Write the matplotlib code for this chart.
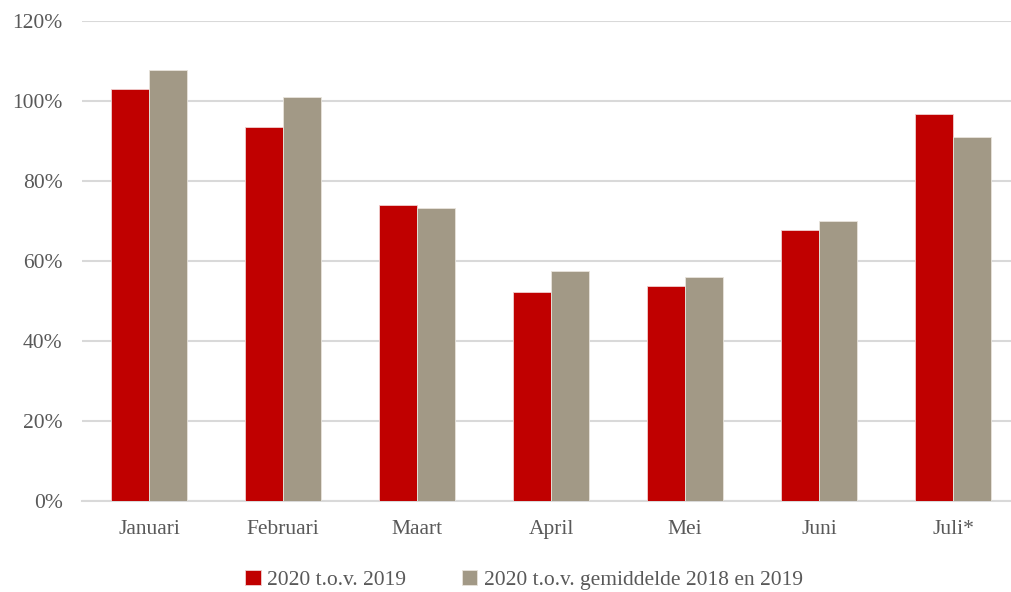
import numpy as np
import matplotlib.pyplot as plt
from matplotlib.ticker import FuncFormatter

# data
maanden = ['Januari', 'Februari', 'Maart', 'April', 'Mei', 'Juni', 'Juli*']
tov_2019 = [102.9, 93.6, 73.9, 52.3, 53.8, 67.7, 96.8]
tov_gem = [107.7, 101.1, 73.3, 57.4, 56.0, 70.1, 91.0]
labels = ['2020 t.o.v. 2019', '2020 t.o.v. gemiddelde 2018 en 2019']

rood = '#c00000'
grijs = '#a29986'
tekst = '#595959'

plt.rcParams['font.family'] = ['Liberation Serif', 'DejaVu Serif']

fig = plt.figure(figsize=(10.11, 5.92), dpi=100)
# plot area runs a little past the right edge, like the reference
ax = fig.add_axes([82 / 1011, 91 / 592, 938 / 1011, 480 / 592])

x = np.arange(len(maanden))
w = 0.287
ax.bar(x - w / 2, tov_2019, w, color=rood, edgecolor='#f0d0d0', linewidth=0.6, label=labels[0], zorder=3)
ax.bar(x + w / 2, tov_gem, w, color=grijs, edgecolor='#e8e4dc', linewidth=0.6, label=labels[1], zorder=3)

ax.set_xlim(-0.5, len(maanden) - 0.5)
ax.set_ylim(0, 120)
ax.set_yticks(np.arange(0, 121, 20))
ax.yaxis.set_major_formatter(FuncFormatter(lambda v, p: f'{v:.0f}%'))
ax.set_xticks(x)
ax.set_xticklabels(maanden)

ax.grid(axis='y', color='#d9d9d9', linewidth=1.5, zorder=0)
for s in ['top', 'right', 'left']:
    ax.spines[s].set_visible(False)
ax.spines['bottom'].set_color('#d9d9d9')
ax.spines['bottom'].set_linewidth(1.5)
ax.tick_params(axis='both', length=0, labelsize=15.5, colors=tekst)
ax.tick_params(axis='x', pad=14)
ax.tick_params(axis='y', pad=14)

fig.legend(loc='center', bbox_to_anchor=(524 / 1011, 12 / 592), ncol=2, frameon=False,
           fontsize=15.5, labelcolor=tekst, handlelength=0.7, handleheight=0.7,
           handletextpad=0.3, columnspacing=2.6)

fig.savefig('out.png', dpi=100)
